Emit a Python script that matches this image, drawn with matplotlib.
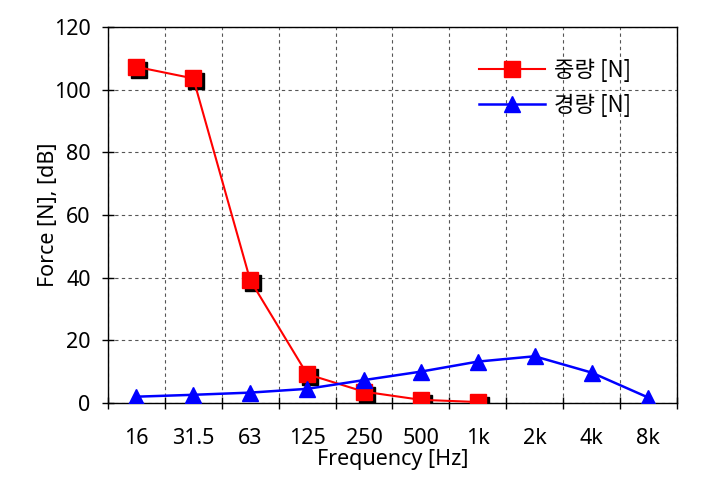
import matplotlib
matplotlib.use("Agg")
import matplotlib.pyplot as plt
import matplotlib.transforms as mtransforms
import numpy as np

plt.rcParams['font.family'] = ['Noto Sans', 'Noto Sans CJK KR', 'DejaVu Sans']

categories = ['16', '31.5', '63', '125', '250', '500', '1k', '2k', '4k', '8k']
heavy = [107.3, 103.6, 39.2, 9.2, 3.6, 1.0, 0.3]          # 중량 [N]
light = [2.0, 2.6, 3.3, 4.5, 7.3, 10.0, 13.2, 14.9, 9.7, 1.7]  # 경량 [N]
yticks = [0, 20, 40, 60, 80, 100, 120]

fig = plt.figure(figsize=(7.17, 4.92), dpi=100)
ax = fig.add_axes([0.1506, 0.181, 0.7934, 0.764])

x_heavy = np.arange(len(heavy))
x_light = np.arange(len(light))

# shadow for squares
shadow = mtransforms.offset_copy(ax.transData, fig=fig, x=3, y=-3, units='dots')
ax.plot(x_heavy, heavy, linestyle='none', marker='s', markersize=11.5,
        color='black', transform=shadow, zorder=3)
ax.plot(x_heavy, heavy, color='red', linewidth=1.5, marker='s', markersize=11.5,
        markerfacecolor='red', markeredgecolor='red', zorder=4, label='중량 [N]')
ax.plot(x_light, light, color='blue', linewidth=1.8, marker='^', markersize=11.5,
        markerfacecolor='blue', markeredgecolor='blue', zorder=5, label='경량 [N]')

ax.set_xlim(-0.5, len(categories) - 0.5)
ax.set_ylim(0, 120)
ax.set_yticks(yticks)
ax.set_yticklabels([str(v) for v in yticks], fontsize=15.5)

ax.set_xticks(np.arange(-0.5, len(categories), 1.0))
ax.set_xticklabels([])
ax.set_xticks(np.arange(len(categories)), minor=True)
ax.set_xticklabels(categories, minor=True, fontsize=15.5)
ax.tick_params(axis='x', which='minor', length=0, pad=18)
ax.tick_params(axis='x', which='major', direction='inout', length=9, width=1)
ax.tick_params(axis='y', which='major', direction='inout', length=9, width=1, pad=8)

ax.grid(True, which='major', axis='both', color='#555555', linestyle=(0, (3, 3)), linewidth=0.8)
ax.set_axisbelow(True)
for s in ax.spines.values():
    s.set_color('black')
    s.set_linewidth(1.0)

ax.set_xlabel('Frequency [Hz]', fontsize=15.5, labelpad=0)
ax.set_ylabel('Force [N], [dB]', fontsize=15.5, labelpad=-4)

leg = ax.legend(loc='upper right', bbox_to_anchor=(0.955, 0.97), frameon=False,
                handlelength=3.0, handletextpad=0.4, labelspacing=0.55,
                prop={'family': ['Noto Sans CJK KR', 'DejaVu Sans'], 'size': 16})

fig.savefig('out.png', dpi=100)
